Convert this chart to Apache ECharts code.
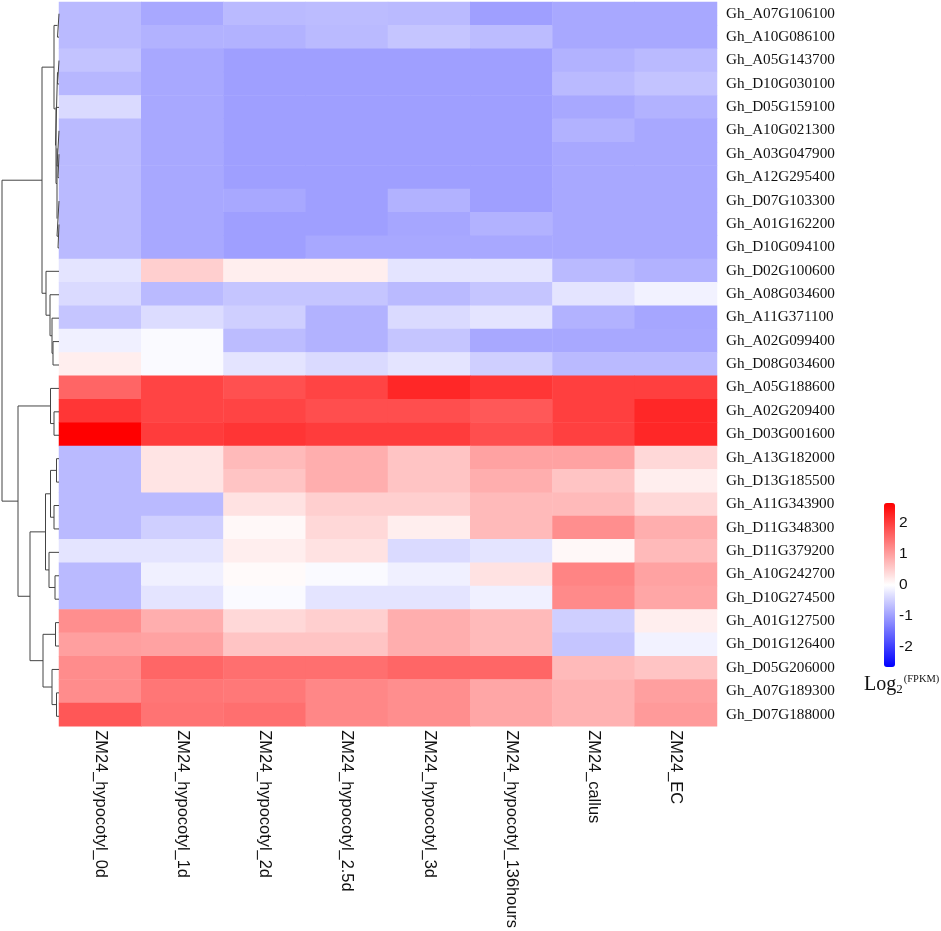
<!DOCTYPE html>
<html>
<head>
<meta charset="utf-8">
<style>
  html, body { margin: 0; padding: 0; background: #fff; }
  #chart { width: 941px; height: 931px; }
</style>
<script src="https://cdn.jsdelivr.net/npm/echarts@6/dist/echarts.min.js"></script>
</head>
<body>
<div id="chart"></div>
<script>
const samples = ["ZM24_hypocotyl_0d", "ZM24_hypocotyl_1d", "ZM24_hypocotyl_2d", "ZM24_hypocotyl_2.5d",
  "ZM24_hypocotyl_3d", "ZM24_hypocotyl_136hours", "ZM24_callus", "ZM24_EC"];
const genes = ["Gh_A07G106100", "Gh_A10G086100", "Gh_A05G143700", "Gh_D10G030100", "Gh_D05G159100", "Gh_A10G021300",
  "Gh_A03G047900", "Gh_A12G295400", "Gh_D07G103300", "Gh_A01G162200", "Gh_D10G094100", "Gh_D02G100600",
  "Gh_A08G034600", "Gh_A11G371100", "Gh_A02G099400", "Gh_D08G034600", "Gh_A05G188600", "Gh_A02G209400",
  "Gh_D03G001600", "Gh_A13G182000", "Gh_D13G185500", "Gh_A11G343900", "Gh_D11G348300", "Gh_D11G379200",
  "Gh_A10G242700", "Gh_D10G274500", "Gh_A01G127500", "Gh_D01G126400", "Gh_D05G206000", "Gh_A07G189300",
  "Gh_D07G188000"];
// log2 values, one row per gene
const values = [
  [-0.72, -0.90, -0.72, -0.70, -0.72, -1.00, -0.90, -0.90],
  [-0.72, -0.80, -0.80, -0.72, -0.60, -0.70, -0.90, -0.90],
  [-0.62, -0.90, -1.00, -1.00, -1.00, -1.00, -0.80, -0.72],
  [-0.75, -0.90, -1.00, -1.00, -1.00, -1.00, -0.72, -0.62],
  [-0.38, -0.90, -1.00, -1.00, -1.00, -1.00, -0.90, -0.80],
  [-0.72, -0.90, -1.00, -1.00, -1.00, -1.00, -0.80, -0.90],
  [-0.72, -0.90, -1.00, -1.00, -1.00, -1.00, -0.90, -0.90],
  [-0.72, -0.90, -1.00, -1.00, -1.00, -1.00, -0.90, -0.90],
  [-0.72, -0.90, -0.90, -1.00, -0.80, -1.00, -0.90, -0.90],
  [-0.72, -0.90, -1.00, -1.00, -0.92, -0.80, -0.90, -0.90],
  [-0.72, -0.90, -1.00, -0.90, -0.90, -0.90, -0.90, -0.90],
  [-0.28, 0.50, 0.18, 0.18, -0.28, -0.28, -0.72, -0.80],
  [-0.38, -0.72, -0.60, -0.60, -0.72, -0.60, -0.28, -0.14],
  [-0.60, -0.36, -0.50, -0.80, -0.38, -0.28, -0.80, -0.92],
  [-0.16, -0.05, -0.70, -0.80, -0.60, -0.90, -0.90, -0.90],
  [0.18, -0.05, -0.28, -0.38, -0.28, -0.50, -0.72, -0.72],
  [1.60, 1.94, 1.82, 1.94, 2.24, 2.09, 2.00, 2.00],
  [2.09, 1.94, 1.94, 1.84, 1.84, 1.74, 2.00, 2.24],
  [2.65, 2.03, 2.10, 2.03, 2.03, 1.84, 1.98, 2.24],
  [-0.72, 0.28, 0.72, 0.84, 0.61, 0.97, 0.97, 0.41],
  [-0.72, 0.28, 0.61, 0.84, 0.61, 0.84, 0.61, 0.18],
  [-0.72, -0.72, 0.30, 0.50, 0.50, 0.72, 0.72, 0.41],
  [-0.72, -0.50, 0.07, 0.41, 0.18, 0.72, 1.17, 0.84],
  [-0.28, -0.28, 0.18, 0.30, -0.38, -0.28, 0.07, 0.72],
  [-0.72, -0.16, 0.05, -0.05, -0.16, 0.30, 1.28, 0.97],
  [-0.72, -0.28, -0.05, -0.28, -0.28, -0.16, 1.22, 0.92],
  [1.17, 0.84, 0.41, 0.50, 0.84, 0.72, -0.50, 0.18],
  [1.00, 0.97, 0.61, 0.61, 0.84, 0.72, -0.60, -0.14],
  [1.20, 1.59, 1.50, 1.50, 1.59, 1.59, 0.72, 0.61],
  [1.20, 1.42, 1.40, 1.25, 1.17, 0.92, 0.80, 1.00],
  [1.75, 1.45, 1.50, 1.25, 1.17, 0.92, 0.80, 1.05]
];
// row tree: [merge distance, child, child], a bare number is a row index
const upperRows = [17, [5, [1.5, 0, 1], [3.5, [1.5, 2, 3], [3, 4, [2, [2, 5, [1, 6, 7]], [2, 8, [1, 9, 10]]]]]],
  [13, 11, [9, 12, [7, 13, [6, 14, 15]]]]];
const lowerRows = [41, [8.5, 16, [5, 17, 18]], [29, [13.5, [8.5, [2.5, 19, 20], [5, 21, 22]], [10, 23, [4, 24, 25]]],
  [16, [3.5, 26, 27], [7, 28, [2.5, 29, 30]]]]];
const rowTree = [57, upperRows, lowerRows];
const colorTicks = [-2, -1, 0, 1, 2];
const colorRange = 2.65;

const cells = [];
values.forEach((row, r) => row.forEach((v, c) => cells.push([c, r, v])));

// walks the tree and returns the line pieces, gaps between pieces as empty points
const treeLine = [];
function layoutNode(node) {
  if (typeof node === "number") return { d: 0, y: node + 0.5 };
  const a = layoutNode(node[1]);
  const b = layoutNode(node[2]);
  treeLine.push([a.d, a.y], [node[0], a.y], [node[0], b.y], [b.d, b.y], ["-", "-"]);
  return { d: node[0], y: (a.y + b.y) / 2 };
}
layoutNode(rowTree);

const chart = echarts.init(document.getElementById("chart"));
chart.setOption({
  animation: false,
  backgroundColor: "#fff",
  grid: [
    { left: 59, top: 2, width: 658, height: 726 },
    { left: 0, top: 2, width: 59, height: 726 },
    { left: 884, top: 503, width: 11, height: 164 }
  ],
  xAxis: [
    {
      gridIndex: 0,
      type: "category",
      data: samples,
      position: "bottom",
      axisLine: { show: false },
      axisTick: { show: false },
      splitLine: { show: false },
      splitArea: { show: false },
      axisLabel: { interval: 0, rotate: -90, margin: 4, fontFamily: "Liberation Sans", fontSize: 16.4, color: "#111" }
    },
    { gridIndex: 1, type: "value", min: 0, max: 59, inverse: true, show: false },
    { gridIndex: 2, type: "value", min: 0, max: 1, show: false }
  ],
  yAxis: [
    {
      gridIndex: 0,
      type: "category",
      data: genes,
      inverse: true,
      position: "right",
      axisLine: { show: false },
      axisTick: { show: false },
      splitLine: { show: false },
      splitArea: { show: false },
      axisLabel: { interval: 0, margin: 9, fontFamily: "Liberation Serif", fontSize: 15.2, color: "#111", padding: [0, 0, 5, 0] }
    },
    { gridIndex: 1, type: "value", min: 0, max: genes.length, inverse: true, show: false },
    {
      gridIndex: 2,
      type: "value",
      min: -colorRange,
      max: colorRange,
      position: "right",
      axisLine: { show: false },
      axisTick: { show: false },
      splitLine: { show: false },
      axisLabel: {
        customValues: colorTicks,
        margin: 4,
        fontFamily: "Liberation Sans",
        fontSize: 15.5,
        color: "#111",
        padding: [0, 0, 5, 0]
      }
    }
  ],
  visualMap: {
    type: "continuous",
    seriesIndex: 0,
    min: -colorRange,
    max: colorRange,
    calculable: false,
    hoverLink: false,
    realtime: false,
    left: 884,
    top: 503,
    itemWidth: 11,
    itemHeight: 164,
    padding: 0,
    text: ["", ""],
    showLabel: false,
    inRange: { color: ["#0000ff", "#ffffff", "#ff0000"] }
  },
  title: {
    left: 864,
    top: 674,
    padding: 0,
    text: "{log|Log}{sub|2}{sup|(FPKM)}",
    textStyle: {
      fontWeight: "normal",
      rich: {
        log: { fontFamily: "Liberation Serif", fontSize: 20, fontWeight: "normal", color: "#111", lineHeight: 22 },
        sub: { fontFamily: "Liberation Serif", fontSize: 13, fontWeight: "normal", color: "#111", verticalAlign: "bottom", lineHeight: 22, padding: [6, 0, 0, 0] },
        sup: { fontFamily: "Liberation Serif", fontSize: 10.5, fontWeight: "normal", color: "#111", verticalAlign: "top", lineHeight: 22, padding: [0, 0, 6, 1] }
      }
    }
  },
  series: [
    {
      type: "heatmap",
      xAxisIndex: 0,
      yAxisIndex: 0,
      data: cells,
      itemStyle: { borderWidth: 0 },
      progressive: 0
    },
    {
      type: "line",
      xAxisIndex: 1,
      yAxisIndex: 1,
      data: treeLine,
      showSymbol: false,
      connectNulls: false,
      clip: false,
      lineStyle: { color: "#444", width: 1 }
    }
  ]
});
</script>
</body>
</html>
